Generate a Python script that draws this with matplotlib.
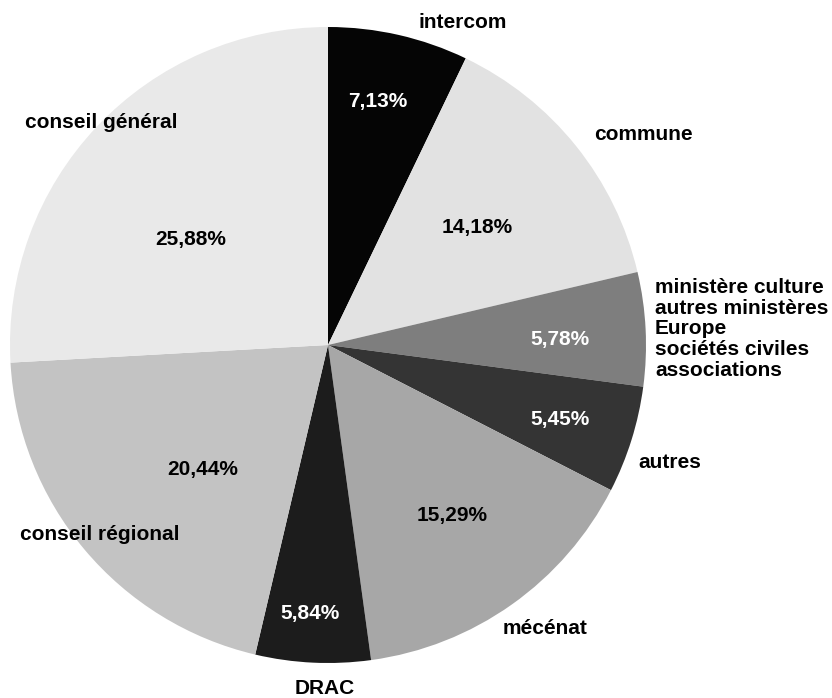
import matplotlib
matplotlib.use("Agg")
import matplotlib.pyplot as plt

categories = ["intercom", "commune",
              "ministère culture\nautres ministères\nEurope\nsociétés civiles\nassociations",
              "autres", "mécénat", "DRAC", "conseil régional", "conseil général"]
values = [7.13, 14.18, 5.78, 5.45, 15.29, 5.84, 20.44, 25.88]
pct_labels = ["7,13%", "14,18%", "5,78%", "5,45%", "15,29%", "5,84%", "20,44%", "25,88%"]

colors = ["#050505", "#e2e2e2", "#7e7e7e", "#343434", "#a7a7a7", "#1c1c1c", "#c3c3c3", "#e9e9e9"]
pct_colors = ["white", "black", "white", "white", "black", "white", "black", "black"]

W, H = 832, 698
fig = plt.figure(figsize=(W / 100, H / 100), dpi=100)
ax = fig.add_axes([0, 0, 1, 1])

cx, cy, r = 328, H - 345, 318
ax.pie(values, colors=colors, startangle=90, counterclock=False,
       center=(cx, cy), radius=r, frame=True,
       wedgeprops=dict(linewidth=0))
ax.set_xlim(0, W)
ax.set_ylim(0, H)
ax.set_aspect("equal")
ax.axis("off")

font = dict(family=["Liberation Sans", "DejaVu Sans"], weight="bold", fontsize=15)

# percentage labels (pixel positions, top-left origin)
pct_pos = [(378, 102), (477, 228), (560, 340), (560, 420), (452, 515), (310, 613), (203, 470), (191, 239)]
for (x, y), t, c in zip(pct_pos, pct_labels, pct_colors):
    ax.text(x, H - y, t, color=c, ha="center", va="center", **font)

# category labels
cat_pos = [(463, 22, "center"), (643, 135, "center"), (655, 329, "left"), (670, 463, "center"),
           (545, 628, "center"), (325, 688, "center"), (100, 535, "center"), (101, 122, "center")]
for (x, y, ha), t in zip(cat_pos, categories):
    ax.text(x, H - y, t, color="black", ha=ha, va="center", linespacing=1.12, **font)

fig.savefig("out.png", dpi=100, facecolor="white")
